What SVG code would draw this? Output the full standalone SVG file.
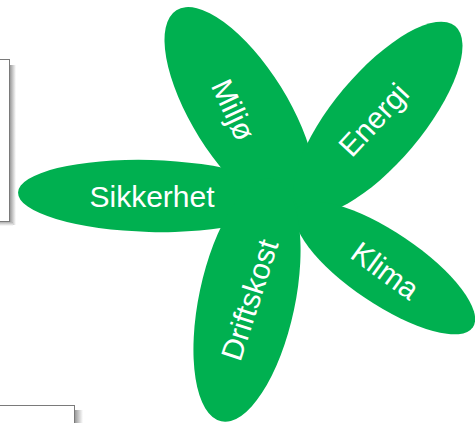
<svg xmlns="http://www.w3.org/2000/svg" width="475" height="423" viewBox="0 0 475 423">
  <defs>
    <linearGradient id="shadowR" x1="0" y1="0" x2="1" y2="0">
      <stop offset="0" stop-color="#9a9a9a"/>
      <stop offset="1" stop-color="#ffffff"/>
    </linearGradient>
    <linearGradient id="shadowB" x1="0" y1="0" x2="0" y2="1">
      <stop offset="0" stop-color="#b0b0b0"/>
      <stop offset="1" stop-color="#ffffff"/>
    </linearGradient>
  </defs>
  <style>
    .petal { fill: #00b050; stroke: none; }
    .label { fill: #ffffff; font-family: "Liberation Sans", Arial, sans-serif; font-size: 30px; text-anchor: middle; }
    .box { fill: #ffffff; stroke: #7a7a7a; stroke-width: 1; }
  </style>
  <rect width="475" height="423" fill="#ffffff"/>

  <g id="box-left">
    <rect x="10" y="65" width="6" height="160" fill="url(#shadowR)"/>
    <rect x="-2" y="222" width="15" height="4" fill="url(#shadowB)"/>
    <rect class="box" x="-2" y="59.5" width="11.5" height="162"/>
  </g>
  <g id="box-bottom">
    <rect x="75" y="410" width="8" height="14" fill="url(#shadowR)"/>
    <rect class="box" x="-2" y="405.5" width="76.5" height="20"/>
  </g>

  <g id="petal-sikkerhet">
    <ellipse class="petal" cx="150" cy="196" rx="132" ry="36" transform="rotate(1.5 150 196)"/>
    <text class="label" x="152" y="207">Sikkerhet</text>
  </g>
  <g id="petal-miljo">
    <ellipse class="petal" cx="240" cy="112" rx="120" ry="48" transform="rotate(58 240 112)"/>
    <text class="label" transform="translate(233 110) rotate(65)" x="0" y="10">Miljø</text>
  </g>
  <g id="petal-energi">
    <ellipse class="petal" cx="378" cy="118" rx="120" ry="45" transform="rotate(-50 378 118)"/>
    <text class="label" transform="translate(374 120) rotate(-47)" x="0" y="10">Energi</text>
  </g>
  <g id="petal-klima">
    <ellipse class="petal" cx="385" cy="268" rx="106" ry="36" transform="rotate(34 385 268)"/>
    <text class="label" transform="translate(385 271) rotate(36)" x="0" y="10">Klima</text>
  </g>
  <g id="petal-driftskost">
    <ellipse class="petal" cx="247" cy="300" rx="124" ry="48" transform="rotate(102 247 300)"/>
    <text class="label" transform="translate(250 300) rotate(-72)" x="0" y="10">Driftskost</text>
  </g>
  <g id="connectors"/>
</svg>
